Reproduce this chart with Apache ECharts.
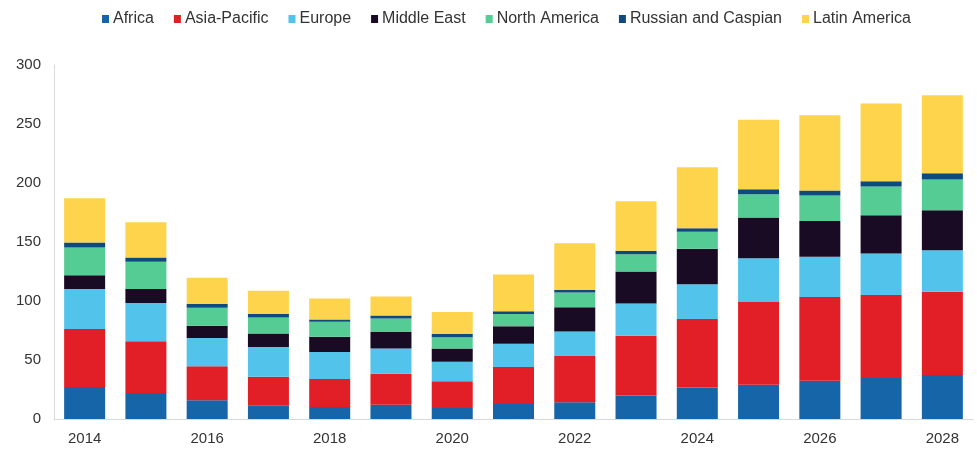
<!DOCTYPE html>
<html>
<head>
<meta charset="utf-8">
<script src="https://cdn.jsdelivr.net/npm/echarts@6/dist/echarts.min.js"></script>
<style>
  html, body { margin: 0; padding: 0; background: #fff; }
  #chart { width: 977px; height: 450px; }
</style>
</head>
<body>
<div id="chart"></div>
<script>
// Years on the category axis
const years = ['2014','2015','2016','2017','2018','2019','2020','2021','2022','2023','2024','2025','2026','2027','2028'];

// Regional values, stacked bottom to top
const africa        = [27.1, 22.0, 15.8, 11.3, 10.2, 12.1,  9.3, 12.7, 14.1, 20.0, 26.8, 29.1, 32.5, 34.7, 37.3];
const asiaPacific   = [49.1, 43.8, 28.8, 24.5, 23.7, 26.3, 22.6, 31.3, 39.8, 50.6, 57.9, 70.0, 70.8, 70.3, 70.5];
const europe        = [33.9, 32.4, 24.0, 25.2, 22.8, 21.4, 16.6, 19.8, 20.3, 27.3, 29.6, 37.2, 34.2, 35.3, 35.3];
const middleEast    = [11.8, 11.9, 10.4, 11.5, 13.0, 13.9, 11.3, 14.9, 20.4, 27.1, 29.9, 34.5, 30.2, 32.4, 33.9];
const northAmerica  = [23.5, 23.1, 15.3, 13.6, 12.7, 11.5,  9.4, 10.2, 12.7, 14.7, 14.4, 19.7, 21.7, 24.3, 25.9];
const russiaCaspian = [ 4.2,  3.7,  3.1,  3.1,  2.0,  2.6,  2.8,  2.5,  2.2,  2.8,  3.1,  4.2,  4.2,  4.5,  5.4];
const latinAmerica  = [37.5, 29.9, 22.3, 19.5, 17.8, 16.1, 18.6, 31.1, 39.5, 42.1, 51.7, 59.0, 63.8, 65.8, 66.0];

const seriesNames  = ['Africa', 'Asia-Pacific', 'Europe', 'Middle East', 'North America', 'Russian and Caspian', 'Latin America'];
const seriesValues = [africa, asiaPacific, europe, middleEast, northAmerica, russiaCaspian, latinAmerica];
const seriesColors = ['#1565a8', '#e21f26', '#52c3ea', '#1a0b24', '#54cc93', '#0f4a7e', '#fdd44b'];

const chart = echarts.init(document.getElementById('chart'), null, { renderer: 'canvas' });

const textColor = '#333333';
const fontFamily = '"Liberation Sans", Arial, sans-serif';

chart.setOption({
  animation: false,
  backgroundColor: '#ffffff',
  color: seriesColors,
  legend: {
    top: 6,
    left: 97,
    itemWidth: 7,
    itemHeight: 8,
    itemGap: 20,
    icon: 'rect',
    textStyle: { color: textColor, fontSize: 16, fontFamily: fontFamily, padding: [0, 0, 0, -1] },
    data: seriesNames
  },
  grid: {
    left: 54,
    right: 4,
    top: 65,
    bottom: 31,
    containLabel: false
  },
  xAxis: {
    type: 'category',
    data: years,
    axisLine: { show: true, lineStyle: { color: '#d9d9d9', width: 1 } },
    axisTick: { show: false },
    axisLabel: {
      interval: 1,
      color: textColor,
      fontSize: 15,
      fontFamily: fontFamily,
      margin: 12
    }
  },
  yAxis: {
    type: 'value',
    min: 0,
    max: 300,
    interval: 50,
    axisLine: { show: true, lineStyle: { color: '#d9d9d9', width: 1 } },
    axisTick: { show: false },
    splitLine: { show: false },
    axisLabel: {
      color: textColor,
      fontSize: 15,
      fontFamily: fontFamily,
      margin: 13
    }
  },
  series: seriesNames.map((name, i) => ({
    name: name,
    type: 'bar',
    stack: 'total',
    barWidth: 41,
    data: seriesValues[i],
    itemStyle: { color: seriesColors[i] }
  }))
});
</script>
</body>
</html>
